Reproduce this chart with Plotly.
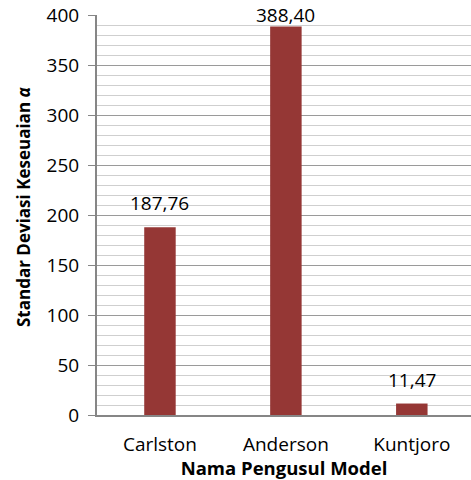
import plotly.graph_objects as go

# Standard deviation of the fit per model author
models = ["Carlston", "Anderson", "Kuntjoro"]
std_dev = [187.76, 388.40, 11.47]
y_ticks = [0, 50, 100, 150, 200, 250, 300, 350, 400]

bar_color = "#953735"
font_family = "Open Sans, Liberation Sans, Arial, sans-serif"

labels = [f"{v:.2f}".replace(".", ",") for v in std_dev]
label_shift = [9, -3, 9]

fig = go.Figure(
    go.Bar(
        x=models,
        y=std_dev,
        marker=dict(color=bar_color, line=dict(width=0)),
        width=0.25,
    )
)

for name, val, txt, sh in zip(models, std_dev, labels, label_shift):
    fig.add_annotation(
        x=name, y=val, text=txt, showarrow=False,
        yanchor="bottom", yshift=sh,
        font=dict(family=font_family, size=19, color="#000000"),
    )

# vertical value-axis title, placed left of the tick labels
fig.add_annotation(
    xref="paper", yref="paper", x=0, y=0.5,
    xanchor="center", yanchor="middle", xshift=-74, yshift=8,
    textangle=-90, showarrow=False,
    text="<b>Standar Deviasi Keseuaian <i>α</i></b>",
    font=dict(family=font_family, size=17, color="#000000"),
)

fig.update_layout(
    width=471,
    height=480,
    margin=dict(l=97, r=0, t=15, b=65, autoexpand=False),
    paper_bgcolor="white",
    plot_bgcolor="white",
    showlegend=False,
    font=dict(family=font_family, size=19, color="#000000"),
)

fig.update_xaxes(
    range=[-0.5, 2.47],
    automargin=False,
    showline=True, linecolor="#868686", linewidth=2,
    ticks="", showgrid=False, zeroline=False,
    ticklabelstandoff=11,
    tickfont=dict(size=19),
    title=dict(text="<b>Nama Pengusul Model</b>", font=dict(size=18.5), standoff=0),
)

fig.update_yaxes(
    range=[0, 400],
    automargin=False,
    tickvals=y_ticks,
    showline=True, linecolor="#868686", linewidth=2,
    ticks="outside", ticklen=7, tickcolor="#868686", tickwidth=1,
    ticklabelstandoff=5,
    showgrid=True, gridcolor="#9a9a9a", gridwidth=1,
    minor=dict(dtick=10, showgrid=True, gridcolor="#cfcfcf", gridwidth=1, ticks=""),
    zeroline=False,
    tickfont=dict(size=19),
)

fig.write_html("out.html", config={"displayModeBar": False})
